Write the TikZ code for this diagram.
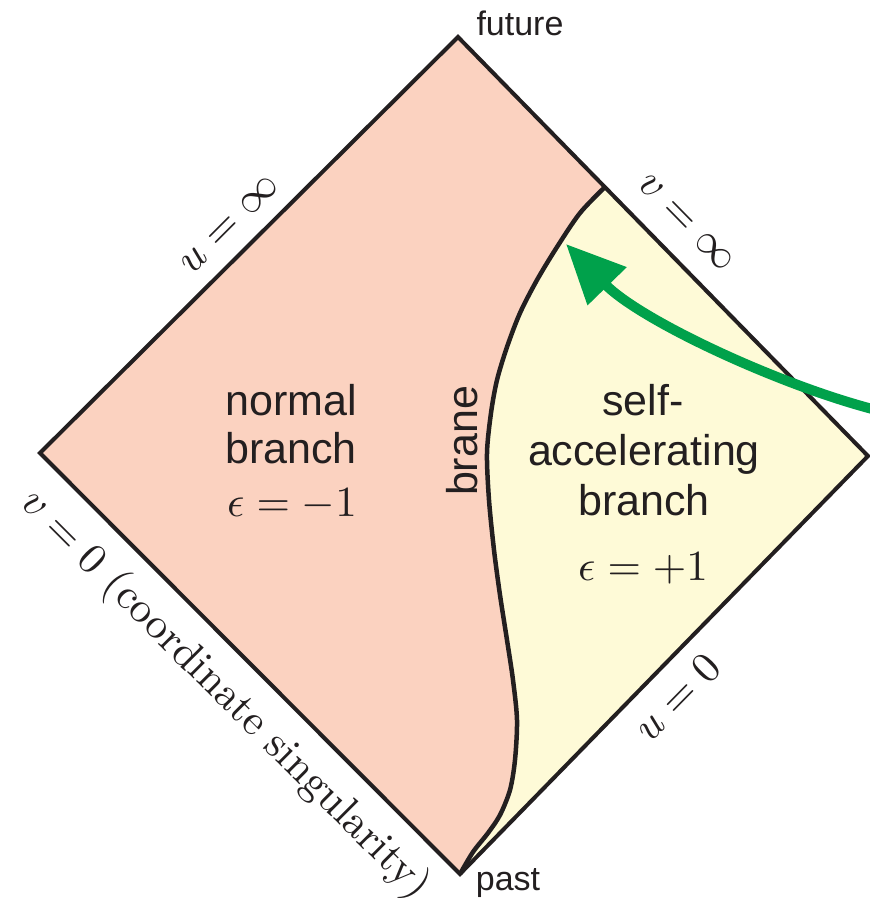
\documentclass[tikz,border=0pt]{standalone}
\usepackage{fontspec}
\newfontfamily\hvfont{Liberation Sans}
\usetikzlibrary{arrows.meta}
\definecolor{pinkfill}{RGB}{251,210,192}
\definecolor{yellowfill}{RGB}{254,250,215}
\definecolor{arrowgreen}{RGB}{0,161,75}
\definecolor{inkgray}{RGB}{35,31,32}
\begin{document}
\begin{tikzpicture}[x=1pt,y=-1pt,
  edgeline/.style={line width=4pt, line join=miter, inkgray},
  braneline/.style={line width=4.5pt, inkgray},
  greenarrow/.style={line width=10pt, arrowgreen, -{Triangle[length=59pt,width=52pt]}},
  sanslabel/.style={font={\hvfont\fontsize{43pt}{48pt}\selectfont}, text=inkgray, inner sep=0pt, anchor=base},
  smallsans/.style={font={\hvfont\fontsize{34pt}{40pt}\selectfont}, text=inkgray, inner sep=0pt, anchor=base},
  mathlabel/.style={font={\fontsize{10pt}{12pt}\selectfont}, scale=4.3, text=inkgray, inner sep=0pt},
  mathbase/.style={font={\fontsize{10pt}{12pt}\selectfont}, scale=4.3, text=inkgray, inner sep=0pt, anchor=base}
]
\useasboundingbox (0,0) rectangle (870,905);
\coordinate (T) at (458,37);
\coordinate (L) at (40,453);
\coordinate (B) at (460,874);
\coordinate (R) at (868,456);
\coordinate (J) at (605,187);
\def\branecoords{(460,874) (473,852) (488,833) (500,815) (510,790) (515,760) (517,720) (513,680) (507,640) (500,595) (494,550) (489,500) (487,453) (491,413) (497,380) (507,347) (520,313) (537,280) (557,247) (580,213) (605,187)}
\fill[pinkfill] (T) -- (L) -- (B) -- plot[smooth,tension=0.5] coordinates {\branecoords} -- cycle;
\fill[yellowfill] (J) -- (R) -- (B) -- plot[smooth,tension=0.5] coordinates {\branecoords} -- cycle;
\draw[braneline] plot[smooth,tension=0.5] coordinates {\branecoords};
\draw[edgeline] (T) -- (L) -- (B) -- (R) -- cycle;
% green arrow
\coordinate (G0) at (880,411);
\coordinate (G1) at (566,244);
\draw[greenarrow] (G0) .. controls (780,386) and (640,320) .. (G1);
% labels
\node[smallsans] (future) at (520,35) {future};
\node[smallsans] (past) at (508,890) {past};
\node[sanslabel] (n1) at (291,415) {normal};
\node[sanslabel] (n2) at (291,463) {branch};
\node[mathbase] (n3) at (292,516) {$\epsilon=-1$};
\node[sanslabel] (s1) at (643,415) {self-};
\node[sanslabel] (s2) at (644,465) {accelerating};
\node[sanslabel] (s3) at (644,515) {branch};
\node[mathbase] (s4) at (643,580) {$\epsilon=+1$};
\node[sanslabel, rotate=90] (brane) at (477,441) {brane};
\node[mathlabel, rotate=45] (uinf) at (230,225) {$u=\infty$};
\node[mathlabel, rotate=-45.5] (vinf) at (686,223) {$v=\infty$};
\node[mathlabel, rotate=45.5] (uzero) at (677,697) {$u=0$};
\node[mathlabel, rotate=-45] (vzero) at (225,695) {$v=0$ (coordinate singularity)};
\end{tikzpicture}
\end{document}
